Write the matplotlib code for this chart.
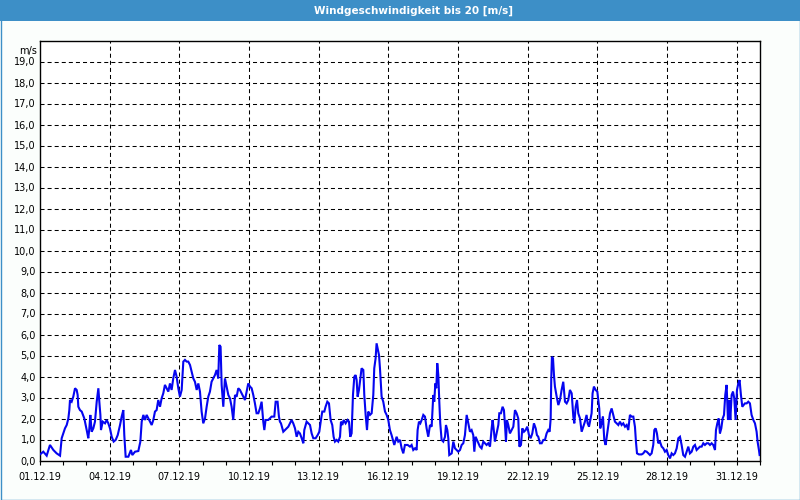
import matplotlib
matplotlib.use("Agg")
import matplotlib.pyplot as plt
from matplotlib.patches import Rectangle
import numpy as np

# Hours since 01.12.2019 00:00 and wind speed [m/s]
hours = [0, 3.4, 6.9, 10.3, 13.8, 17.2, 20.7, 22.4, 24.1, 25.8, 27.6, 29.3, 30.3, 31.0, 32.7, 34.4,
         36.2, 37.9, 38.9, 39.6, 41.3, 43.1, 45.8, 47.2, 48.6, 49.9, 51.0, 52.0, 53.4, 55.1, 56.8,
         58.6, 60.3, 61.3, 62.4, 63.0, 64.8, 67.2, 68.9, 70.6, 72.3, 74.1, 76.1, 78.2, 80.3, 82.7,
         84.4, 86.1, 87.1, 88.5, 91.3, 94.0, 95.4, 98.2, 101.6, 103.7, 105.1, 106.8, 108.5, 110.2,
         113.7, 115.4, 117.1,
         118.8, 120.5, 122.2, 124.0, 125.7, 127.4, 129.1, 130.9, 132.6, 134.3, 136.0, 137.7, 139.5,
         141.2, 142.9, 144.6, 146.4, 148.1, 149.8, 151.5, 153.2, 155.0, 156.7, 158.4, 160.1, 161.9,
         163.6, 165.3, 167.0, 168.7, 170.5, 172.2, 173.9, 175.6, 177.3, 179.1, 180.8, 182.5, 184.2,
         185.3, 186.6, 187.7, 189.4, 191.1, 192.8, 194.6, 196.3, 198.0, 199.7, 201.5, 203.2, 204.9,
         206.6, 208.3, 210.1, 211.8, 213.5, 215.2, 217.0, 218.7, 220.4, 222.1, 223.8, 225.6, 227.3,
         229.0, 230.7, 231.8, 233.1, 235.9, 239.3, 242.1, 243.5, 245.5, 246.9, 247.9,
         249.0, 251.4, 253.1, 254.9, 256.6, 258.3, 260.0, 261.7, 263.5, 265.2, 266.9, 268.6, 270.4,
         272.1, 273.1, 275.5, 277.2, 279.0, 280.7, 282.4, 284.8, 286.9, 288.6, 290.3, 291.7, 293.8,
         295.1, 296.9, 298.6, 300.3, 302.0, 303.4, 304.8, 306.5, 308.2, 310.0, 311.0, 312.4, 313.8,
         315.8, 317.9, 319.3, 320.6, 322.0, 323.4, 324.8, 326.1, 327.2, 328.2, 329.6, 331.0, 332.3,
         334.1, 335.1, 336.5, 337.9, 339.2, 341.0, 342.7, 344.4, 345.4, 346.8, 347.8, 348.9, 350.3,
         351.3, 353.0, 354.7, 356.5, 358.2, 359.9, 361.6, 363.3, 365.1, 366.1,
         368.5, 370.2, 372.0, 373.7, 375.4, 377.1, 379.9, 382.3, 384.0, 385.7, 387.5, 389.2, 390.2,
         391.6, 393.0, 394.4, 396.1, 397.8, 399.5, 401.2, 403.0, 404.7, 406.4, 407.4, 408.5, 409.5,
         410.5, 411.6, 412.6, 413.6, 415.0, 416.7, 418.5, 419.5, 420.9, 421.9, 422.9, 425.4, 427.1,
         428.8, 430.5, 432.2, 434.0, 435.7, 437.4, 439.1, 440.9, 442.6, 444.3, 446.0, 447.7, 448.8,
         450.1, 451.5, 452.9, 454.6, 456.3, 458.1, 459.8, 461.5, 463.2, 465.0, 466.7, 467.7, 469.1,
         470.1, 471.8, 473.6, 474.6, 476.3, 478.0, 479.4, 480.5, 481.5, 482.5, 483.9, 485.6, 487.3,
         489.1,
         490.8, 492.5, 494.2, 495.3, 497.0, 498.4, 500.1, 501.8, 503.5, 505.3, 507.0, 508.7, 510.4,
         512.2, 513.5, 514.9, 516.6, 518.4, 520.1, 521.8, 523.5, 525.2, 526.6, 527.7, 528.3, 529.0,
         530.1, 531.1, 532.1, 533.9, 535.6, 537.3, 539.0, 540.7, 542.5, 544.2, 545.9, 547.6, 549.4,
         551.1, 552.1, 553.5, 554.9, 556.2, 558.0, 559.7, 561.4, 563.1, 564.8, 565.9, 567.3, 568.6,
         570.0, 571.0, 572.4, 574.1, 575.9, 576.9, 577.9, 578.9, 580.3, 581.7, 583.1, 584.5, 585.9,
         587.2, 589.0, 590.7, 592.4, 594.1, 595.8, 597.6, 599.3, 601.0, 602.7, 604.5, 606.2, 607.9,
         609.6, 611.3, 613.1,
         614.8, 615.8, 616.9, 618.9, 621.7, 623.4, 625.1, 626.9, 628.6, 630.3, 632.0, 633.7, 634.8,
         636.2, 637.5, 638.9, 640.6, 642.4, 644.1, 645.8, 647.5, 649.2, 651.0, 652.7, 654.4, 656.1,
         657.9, 659.6, 661.3, 663.0, 664.7, 666.5, 668.2, 669.9, 671.6, 673.4, 675.1, 676.8, 678.5,
         680.2, 682.0, 683.7, 685.4, 687.1, 688.9, 690.6, 692.3, 694.0, 695.7, 697.5, 698.5, 699.9,
         701.3, 702.6, 704.0, 705.4, 706.8, 708.1, 709.5, 710.9, 712.3, 713.3, 714.7, 716.1, 717.4,
         718.8, 720.2, 721.6, 722.9, 724.3, 725.7, 727.1, 728.4, 730.2, 731.9, 733.6, 735.3, 737.1,
         738.8, 740.5, 741.5, 742.9, 743.6]

speed = [0.29, 0.42, 0.23, 0.74, 0.5, 0.34, 0.23, 1.06, 1.29, 1.53, 1.69, 2.0, 2.4, 2.88, 2.8, 3.04,
         3.44, 3.36, 3.12, 2.56, 2.4, 2.33, 2.0, 1.69, 1.37, 1.06, 1.53, 2.17, 1.37, 1.53, 1.85,
         2.8, 3.44, 2.8, 2.17, 1.45, 1.85, 1.77, 1.93, 1.77, 1.53, 1.13, 0.9, 0.98, 1.21, 1.69,
         2.09, 2.4, 1.21, 0.18, 0.18, 0.5, 0.26, 0.42, 0.45, 0.9, 1.85, 2.17, 1.93, 2.17,
         1.85, 1.69, 1.93,
         2.33, 2.4, 2.88, 2.56, 2.96, 3.2, 3.6, 3.44, 3.28, 3.67, 3.36, 3.91, 4.31,
         3.99, 3.44, 3.04, 3.36, 4.71, 4.79, 4.71, 4.71, 4.55, 4.23, 3.91, 3.75, 3.36,
         3.67, 3.28, 2.33, 1.77, 2.0, 2.56, 3.04, 3.28, 3.75, 3.91, 4.07, 4.31, 3.91,
         5.5, 5.42, 3.6, 2.56, 3.91, 3.52, 3.12, 2.96, 2.56, 1.93, 3.12, 3.04, 3.44,
         3.36, 3.2, 3.04, 2.88, 3.28, 3.67, 3.52, 3.44, 3.12, 2.72, 2.25, 2.25, 2.48,
         2.8, 1.85, 1.45, 1.93, 1.93, 2.09, 2.09, 2.8, 2.8, 2.09, 1.85,
         1.77, 1.37, 1.45, 1.53, 1.61, 1.77, 1.93, 1.77, 1.53, 1.13, 1.37, 1.29, 1.06,
         0.82, 1.45, 1.85, 1.77, 1.69, 1.29, 1.06, 1.06, 1.21, 1.37, 1.93, 2.33, 2.33,
         2.56, 2.8, 2.72, 1.93, 1.69, 1.13, 0.9, 0.98, 0.9, 1.13, 1.85, 1.69, 1.93,
         1.77, 1.93, 1.85, 1.13, 1.29, 3.12, 3.99, 4.07, 3.83, 3.04, 3.36, 3.91, 4.39,
         4.31, 3.12, 2.17, 1.45, 2.33, 2.17, 2.25, 3.12, 4.39, 4.87, 5.58, 5.34, 5.02,
         4.39, 3.04, 2.8, 2.33, 2.17, 1.93, 1.45, 1.21, 0.9, 0.74,
         1.13, 0.9, 0.98, 0.58, 0.34, 0.74, 0.74, 0.66, 0.74, 0.5, 0.58, 0.5, 1.45,
         1.85, 1.77, 1.93, 2.17, 2.09, 1.53, 1.13, 1.69, 1.61, 3.12, 2.8, 3.67, 3.44,
         4.63, 4.07, 2.8, 1.77, 0.98, 0.9, 1.13, 1.69, 1.45, 1.06, 0.26, 0.34, 0.9,
         0.58, 0.5, 0.42, 0.5, 0.74, 0.82, 1.21, 2.17, 1.77, 1.37, 1.45, 1.21, 0.42,
         1.13, 0.98, 0.82, 0.66, 0.58, 0.9, 0.82, 0.74, 0.82, 0.66, 1.53, 1.93, 1.37,
         0.9, 1.29, 1.69, 2.25, 2.25, 2.56, 2.4, 1.69, 0.9, 1.93, 1.69, 1.29, 1.45,
         1.61,
         2.4, 2.25, 2.0, 0.66, 0.74, 1.53, 1.37, 1.45, 1.61, 1.21, 1.06, 1.29, 1.77,
         1.53, 1.21, 1.13, 0.82, 0.82, 0.98, 0.98, 1.29, 1.45, 1.37, 2.0, 3.91, 4.94,
         4.87, 4.07, 3.52, 3.04, 2.64, 2.88, 3.36, 3.75, 2.8, 2.72, 2.88, 3.36, 3.2,
         2.09, 1.77, 2.56, 2.88, 2.25, 2.0, 1.37, 1.61, 1.85, 2.17, 1.77, 1.61, 1.93,
         2.25, 3.2, 3.52, 3.36, 3.28, 2.88, 2.48, 1.53, 1.77, 2.09, 0.98, 0.74, 1.21,
         1.61, 2.25, 2.48, 2.17, 1.85, 1.77, 1.69, 1.85, 1.69, 1.77, 1.61, 1.69, 1.45,
         2.17, 2.09, 2.09,
         1.6, 0.9, 0.34, 0.29, 0.29, 0.34, 0.45, 0.42, 0.34, 0.26, 0.34, 0.74, 1.45,
         1.53, 1.29, 0.82, 0.9, 0.66, 0.58, 0.42, 0.5, 0.26, 0.1, 0.34, 0.26, 0.34,
         0.58, 1.06, 1.13, 0.74, 0.26, 0.18, 0.42, 0.66, 0.34, 0.42, 0.66, 0.74, 0.5,
         0.58, 0.66, 0.66, 0.82, 0.74, 0.82, 0.82, 0.74, 0.82, 0.74, 0.5, 1.45, 1.77,
         2.0, 1.29, 1.53, 2.0, 2.17, 3.12, 3.6, 1.93, 2.88, 1.93, 3.12, 3.28, 2.96,
         1.93, 3.36, 3.67, 3.83, 3.12, 2.56, 2.64, 2.72, 2.72, 2.8, 2.72, 2.17, 1.93,
         1.77, 1.37, 0.9, 0.5, 0.26]

x_ticklabels = ["01.12.19", "04.12.19", "07.12.19", "10.12.19", "13.12.19", "16.12.19",
                "19.12.19", "22.12.19", "25.12.19", "28.12.19", "31.12.19"]
y_ticklabels = ["%d,0" % v for v in range(0, 20)]
title = "Windgeschwindigkeit bis 20 [m/s]"
unit = "m/s"

plt.rcParams["font.family"] = ["DejaVu Sans"]
plt.rcParams["lines.scale_dashes"] = False

BLUE_BAR = "#3d8fc7"
fig = plt.figure(figsize=(8, 5), dpi=100, facecolor="#fbfefc")

# title bar and border
fig.patches.append(Rectangle((0, 1 - 21 / 500), 1, 21 / 500, transform=fig.transFigure,
                             facecolor=BLUE_BAR, edgecolor="none", zorder=0))
fig.patches.append(Rectangle((0.5 / 800, 0.5 / 500), 1 - 1 / 800, 1 - 1 / 500, transform=fig.transFigure,
                             facecolor="none", edgecolor=BLUE_BAR, linewidth=1.0, zorder=1))
fig.text(413 / 800, 1 - 10.5 / 500, title, color="white", fontsize=7.5, fontweight="bold",
         ha="center", va="center")

ax = fig.add_axes([40 / 800, (500 - 460.5) / 500, 720 / 800, 420 / 500])
ax.set_facecolor("white")

days = np.array(hours) / 24.0
ax.plot(days, speed, color="#0505f0", linewidth=1.5, solid_joinstyle="miter", zorder=3)

ax.set_xlim(0, 31)
ax.set_ylim(0, 20)

xt = np.arange(0, 31, 3)
ax.set_xticks(xt)
ax.set_xticklabels(x_ticklabels, fontsize=7)
ax.set_xticks(np.arange(0, 32, 1), minor=True)
ax.tick_params(axis="x", which="both", direction="out", length=3, width=0.8, pad=5, colors="black")

ax.set_yticks(np.arange(0, 20, 1))
ax.set_yticklabels(y_ticklabels, fontsize=7)
ax.tick_params(axis="y", which="both", length=0, pad=3)

for v in range(1, 20):
    ax.axhline(v, color="black", linewidth=0.75, linestyle=(0, (2.9, 2.2)), zorder=1)
for d in xt[1:]:
    ax.axvline(d, color="black", linewidth=0.75, linestyle=(0, (2.9, 2.2)), zorder=1)

for s in ax.spines.values():
    s.set_linewidth(1.0)
    s.set_color("black")

ax.text(-0.004, 19.75, unit, transform=ax.get_yaxis_transform(), ha="right", va="top",
        fontsize=7)

fig.savefig("out.png", dpi=100, facecolor=fig.get_facecolor())
